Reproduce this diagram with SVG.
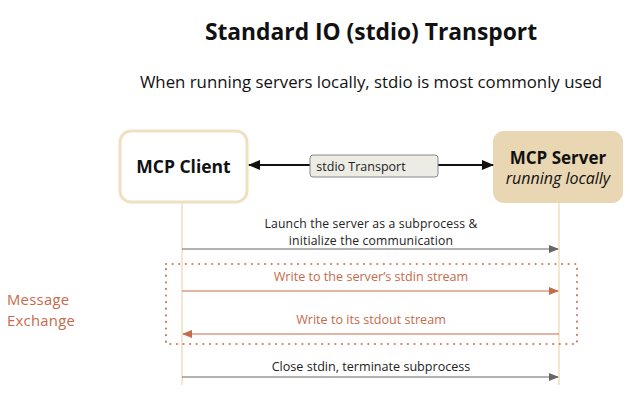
<svg xmlns="http://www.w3.org/2000/svg" width="637" height="417" viewBox="0 0 637 417">
<defs>
<style>
text{font-family:"Open Sans","Liberation Sans",sans-serif}
.title{font-size:22.8px;font-weight:700;fill:#111}
.sub{font-size:16.8px;fill:#111}
.msg{font-size:12.6px;fill:#222}
.omsg{font-size:12.6px;fill:#c66a4a}
.life{stroke:#f0dfc0;stroke-width:1.5}
.blk{stroke:#666;stroke-width:1.2;fill:none}
.org{stroke:#c66a4a;stroke-width:1.2;fill:none}
</style>
<marker id="ag" markerWidth="10" markerHeight="8" refX="9" refY="4" orient="auto" markerUnits="userSpaceOnUse"><path d="M0,0 L10,4 L0,8 Z" fill="#666"/></marker>
<marker id="ao" markerWidth="10" markerHeight="8" refX="9" refY="4" orient="auto" markerUnits="userSpaceOnUse"><path d="M0,0 L10,4 L0,8 Z" fill="#c66a4a"/></marker>
<marker id="ab" markerWidth="12" markerHeight="10" refX="11" refY="5" orient="auto-start-reverse" markerUnits="userSpaceOnUse"><path d="M0,0 L12,5 L0,10 Z" fill="#111"/></marker>
</defs>
<rect width="637" height="417" fill="#fff"/>
<text class="title" x="371" y="40" text-anchor="middle">Standard IO (stdio) Transport</text>
<text class="sub" x="371" y="88" text-anchor="middle">When running servers locally, stdio is most commonly used</text>
<g id="lifelines">
<line class="life" x1="182" y1="202" x2="182" y2="385"/>
<line class="life" x1="559" y1="202" x2="559" y2="385"/>
</g>
<g id="client">
<rect x="120" y="131" width="127" height="71" rx="11" fill="#fff" stroke="#f0dfc0" stroke-width="3"/>
<text x="183.5" y="173" text-anchor="middle" font-size="17.5" font-weight="700" fill="#111">MCP Client</text>
</g>
<g id="server">
<rect x="493" y="131" width="130" height="72" rx="11" fill="#e9d6b2"/>
<text x="558" y="164" text-anchor="middle" font-size="17" font-weight="700" fill="#111">MCP Server</text>
<text x="558" y="184" text-anchor="middle" font-size="16" font-style="italic" fill="#111">running locally</text>
</g>
<g id="connectors">
<line x1="249" y1="165" x2="310" y2="165" stroke="#111" stroke-width="2" marker-start="url(#ab)"/>
<line x1="438" y1="165" x2="493" y2="165" stroke="#111" stroke-width="2" marker-end="url(#ab)"/>
<line class="blk" x1="182" y1="249" x2="558" y2="249" marker-end="url(#ag)"/>
<line class="org" x1="182" y1="291" x2="558" y2="291" marker-end="url(#ao)"/>
<line class="org" x1="559" y1="334" x2="183" y2="334" marker-end="url(#ao)"/>
<line class="blk" x1="182" y1="377" x2="558" y2="377" marker-end="url(#ag)"/>
</g>
<g id="transport">
<rect x="310" y="155" width="128" height="22" rx="3" fill="#ecebe4" stroke="#888" stroke-width="1"/>
<text x="361" y="170.5" text-anchor="middle" font-size="12.5" fill="#222">stdio Transport</text>
</g>
<g id="exchange">
<rect x="166" y="264" width="411" height="80" fill="none" stroke="#c66a4a" stroke-width="2.2" stroke-dasharray="0.1 6.5" stroke-linecap="round" opacity="0.85"/>
<text x="7" y="305" font-size="14.8" letter-spacing="0.3" fill="#c66a4a">Message</text>
<text x="7" y="325.5" font-size="14.8" letter-spacing="0.3" fill="#c66a4a">Exchange</text>
</g>
<g id="labels">
<text class="msg" x="371" y="227.5" text-anchor="middle" style="font-size:12.2px" letter-spacing="0.15">Launch the server as a subprocess &amp;</text>
<text class="msg" x="371" y="244.5" text-anchor="middle" style="font-size:12.2px" letter-spacing="0.15">initialize the communication</text>
<text class="omsg" x="371" y="281" text-anchor="middle">Write to the server’s stdin stream</text>
<text class="omsg" x="371" y="324" text-anchor="middle">Write to its stdout stream</text>
<text class="msg" x="371" y="371" text-anchor="middle">Close stdin, terminate subprocess</text>
</g>
</svg>
